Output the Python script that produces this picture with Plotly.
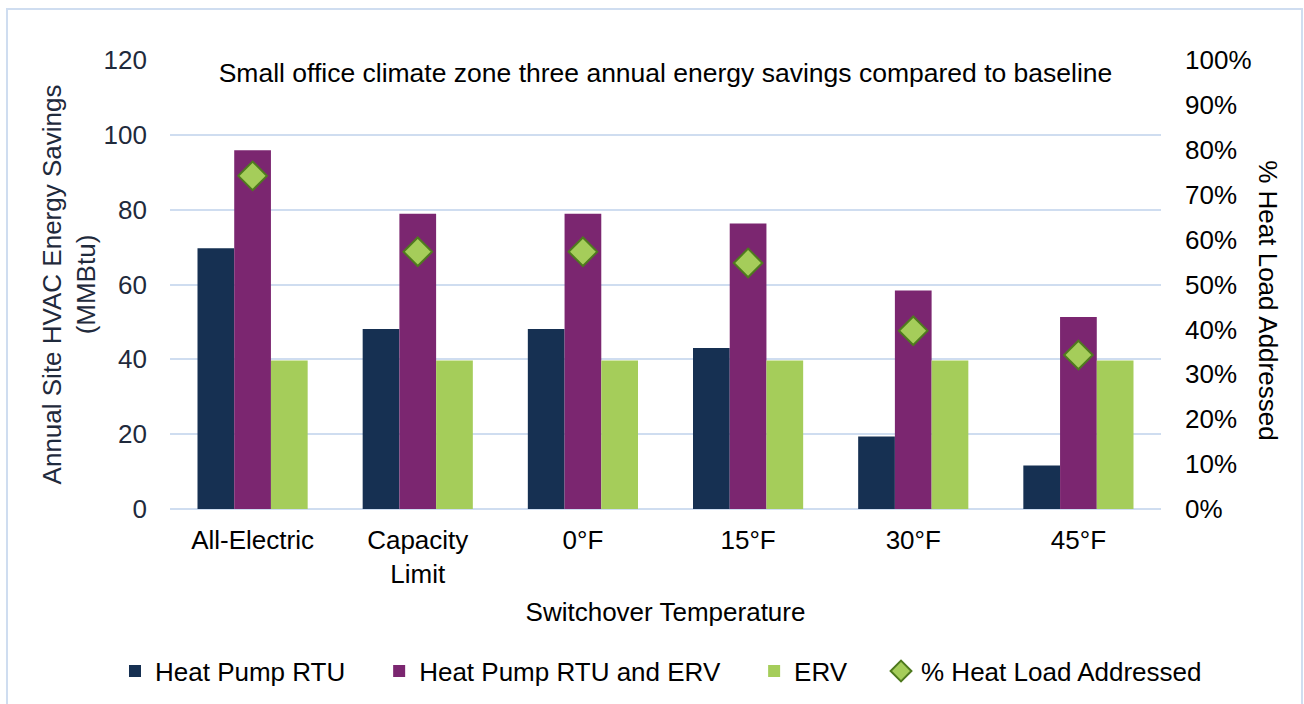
import plotly.graph_objects as go

categories = ["All-Electric", "Capacity<br>Limit", "0°F", "15°F", "30°F", "45°F"]
hp_rtu = [69.7, 48.1, 48.1, 43.0, 19.4, 11.6]
hp_rtu_erv = [95.9, 78.9, 78.9, 76.3, 58.4, 51.3]
erv = [39.7, 39.7, 39.7, 39.7, 39.7, 39.7]
heat_load_pct = [0.742, 0.573, 0.573, 0.548, 0.397, 0.343]
series_names = ["Heat Pump RTU", "Heat Pump RTU and ERV", "ERV", "% Heat Load Addressed"]

FONT = "Liberation Sans, Arial, sans-serif"
FS = 26
GRID = "#CFDDF0"
PAD = "\u00a0" * 4

fig = go.Figure()
fig.add_trace(go.Bar(x=categories, y=hp_rtu, name=series_names[0] + PAD,
                     marker=dict(color="#163052", line=dict(width=0))))
fig.add_trace(go.Bar(x=categories, y=hp_rtu_erv, name=series_names[1] + PAD,
                     marker=dict(color="#7B2670", line=dict(width=0))))
fig.add_trace(go.Bar(x=categories, y=erv, name=series_names[2] + PAD,
                     marker=dict(color="#A5CD5A", line=dict(width=0))))
fig.add_trace(go.Scatter(x=categories, y=heat_load_pct, name=series_names[3],
                         mode="markers", yaxis="y2",
                         marker=dict(symbol="diamond", size=22, color="#A5CD5A",
                                     line=dict(color="#4F7A1F", width=2))))

fig.update_layout(
    width=1304, height=704,
    margin=dict(l=170, r=143, t=60, b=195, autoexpand=False),
    paper_bgcolor="white", plot_bgcolor="white",
    font=dict(family=FONT, size=FS, color="#000000"),
    barmode="group", bargap=0.333, bargroupgap=0,
    showlegend=True,
    legend=dict(orientation="h", x=-0.0555, xanchor="left", y=-0.361, yanchor="middle",
                font=dict(size=FS, color="#000000"), itemwidth=30,
                bgcolor="rgba(0,0,0,0)", traceorder="normal"),
    xaxis=dict(showgrid=False, showline=False, ticks="", ticklabelstandoff=13,
               automargin=False,
               tickfont=dict(size=FS, color="#000000"),
               title=dict(text="Switchover Temperature", font=dict(size=FS, color="#000000"),
                          standoff=15)),
    yaxis=dict(range=[0, 120], dtick=20, showgrid=True, gridcolor=GRID, gridwidth=2,
               zeroline=True, zerolinecolor=GRID, zerolinewidth=2, showline=False,
               ticks="", ticklabelstandoff=22, automargin=False,
               tickfont=dict(size=FS, color="#1F2A3C"),
               title=dict(text="Annual Site HVAC Energy Savings<br>(MMBtu)",
                          font=dict(size=FS, color="#1F2A3C"), standoff=0)),
    yaxis2=dict(range=[0, 1], dtick=0.1, tickformat=".0%", overlaying="y", side="right",
                showgrid=False, zeroline=False, showline=False, ticks="",
                automargin=False,
                ticklabelstandoff=23, tickfont=dict(size=FS, color="#000000")),
    annotations=[
        dict(text="Small office climate zone three annual energy savings compared to baseline",
             xref="paper", yref="paper", x=0.4995, y=0.971, xanchor="center", yanchor="middle",
             showarrow=False, bgcolor="white", width=963, height=40,
             font=dict(size=26.5, color="#000000")),
        dict(text="% Heat Load Addressed", xref="paper", yref="paper", x=1.108, y=0.465,
             xanchor="center", yanchor="middle", textangle=90, showarrow=False,
             font=dict(size=FS, color="#000000")),
    ],
    shapes=[
        dict(type="rect", xref="paper", yref="paper", x0=-0.1645, x1=1.1423, y0=-0.4477, y1=1.1136,
             line=dict(color=GRID, width=2), fillcolor="rgba(0,0,0,0)", layer="below"),
    ],
)

fig.write_html("out.html", config={"displayModeBar": False},
               post_script="document.body.style.margin='0';document.body.style.padding='0';")
